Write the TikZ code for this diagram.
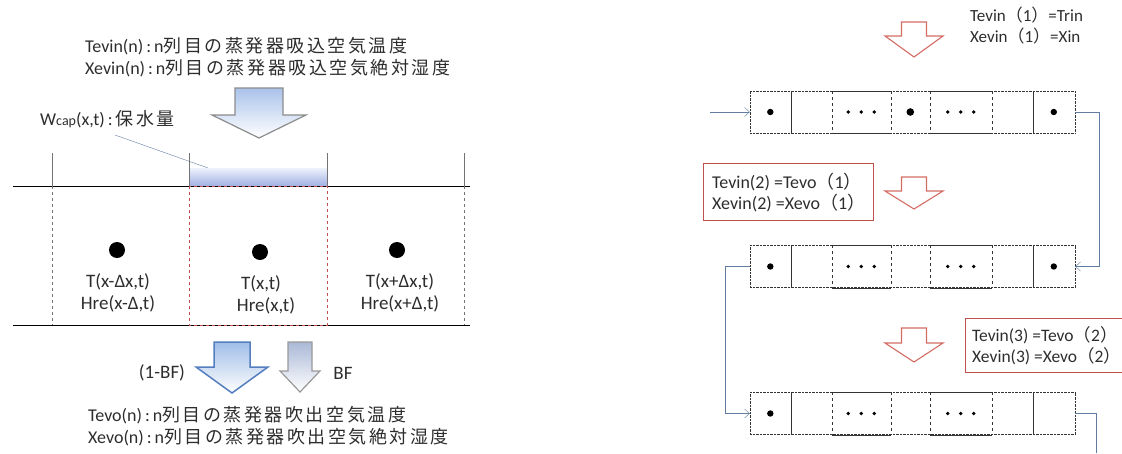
\documentclass[tikz,border=0pt]{standalone}
\usepackage{fontspec}
\setmainfont{Carlito}
\newfontfamily\jp[LetterSpace=14]{Noto Sans CJK JP}
\newfontfamily\jpparen{Noto Sans CJK JP}
\usetikzlibrary{arrows.meta}

\definecolor{cellred}{RGB}{192,80,77}
\definecolor{arrred}{RGB}{212,108,100}
\definecolor{connblue}{RGB}{96,124,160}
\definecolor{waterblue}{RGB}{160,176,226}
\definecolor{arrblue}{RGB}{84,126,190}
\definecolor{txtgray}{RGB}{45,45,45}

\tikzset{
  txt/.style={font=\fontsize{18}{22}\selectfont, text=txtgray, inner sep=0pt, align=left},
  lbl/.style={font=\fontsize{19}{22}\selectfont, text=txtgray, inner sep=0pt},
  smalltxt/.style={font=\fontsize{18}{21}\selectfont, text=txtgray, inner sep=0pt, align=left},
  rowbox/.style={draw=black!80, densely dotted, minimum width=325pt, minimum height=42pt, inner sep=0pt},
  redbox/.style={draw=cellred, line width=1.2pt, inner sep=0pt},
  redarrow/.style={draw=arrred, line width=1.1pt, fill=white},
  flow/.style={draw=connblue, -{Straight Barb[length=5pt,width=9pt]}},
}

\newcommand{\J}[1]{{\jp\fontsize{18}{22}\selectfont #1}}
\newcommand{\wparen}[1]{{\jpparen （}#1{\jpparen ）}}

% block arrow pointing down: style, cx, top, shaft half, head half, head line, tip
\newcommand{\downarrowshape}[7]{%
  \draw[#1] (#2-#4,#3) -- (#2+#4,#3) -- (#2+#4,#6) -- (#2+#5,#6)
    -- (#2,#7) -- (#2-#5,#6) -- (#2-#4,#6) -- cycle;}

% one row of cells
\newcommand{\cellrow}[2]{%
  \node[rowbox] (#1) at (912.5,#2) {};
  \foreach \xd/\sty in {41/solid,82/dashed,141/dashed,180/dashed,242/dashed,283/solid}
    \draw[black!80,\sty] ([xshift=\xd pt]#1.north west) -- ([xshift=\xd pt]#1.south west);
  \draw[black!80] ([xshift=82pt]#1.north west) -- ([xshift=141pt]#1.north west)
    ([xshift=180pt]#1.north west) -- ([xshift=242pt]#1.north west)
    ([xshift=82pt]#1.south west) -- ([xshift=141pt]#1.south west)
    ([xshift=180pt]#1.south west) -- ([xshift=242pt]#1.south west);
  \foreach \i/\cx in {1/20.5,2/61.5,3/111.5,4/160.5,5/211,6/262.5,7/304}
    \coordinate (#1-c\i) at ([xshift=\cx pt]#1.west);
}
\newcommand{\tripledot}[1]{%
  \foreach \dx in {-13,0,13} \fill ([xshift=\dx pt]#1) circle (1.9pt);}

\begin{document}
\begin{tikzpicture}[x=1pt,y=-1pt]
    \useasboundingbox (0,0) rectangle (1122,453);

    % ---------- left: one evaporator row ----------
    % inlet text
    \node[txt, anchor=west] (tevin) at (85,46) {Tevin(n)\,:\,n\J{列目の蒸発器吸込空気温度}};
    \node[txt, anchor=west] (xevin) at (85,68) {Xevin(n)\,:\,n\J{列目の蒸発器吸込空気絶対湿度}};

    % inlet arrow
    \downarrowshape{draw=black!45, line width=1.2pt, top color={rgb,255:red,170;green,195;blue,235}, middle color=white, bottom color=white}{259}{88}{24}{47}{115}{138}

    % water film
    \fill[top color={rgb,255:red,238;green,242;blue,252}, bottom color=waterblue] (189,168) rectangle (327,186);
    \node[txt, anchor=west] (wcap) at (40,119) {W{\fontsize{14}{14}\selectfont cap}(x,t)\,:\,\J{保水量}};
    \coordinate (film) at (208,168);
    \draw[connblue] (115,135) -- (film);

    % fin lines
    \draw[black, line width=1pt] (13,186) -- (470,186);
    \draw[black, line width=1pt] (13,325) -- (470,325);
    \foreach \xc in {52,189,327,464}
        \draw[black!55] (\xc,153) -- (\xc,186);
    \draw[black!55, dashed] (52,186) -- (52,325);
    \draw[black!55, dashed] (464,186) -- (464,325);
    \draw[cellred, dashed] (189,186) rectangle (327,325);

    % nodes
    \fill (117,250) circle (8pt);
    \fill (260,252) circle (8pt);
    \fill (397,250) circle (8pt);

    % labels
    \node[lbl] (tl) at (118,282) {T(x-Δx,t)};
    \node[lbl] (hl) at (118,304) {Hre(x-Δ,t)};
    \node[lbl] (tc) at (261,284) {T(x,t)};
    \node[lbl] (hc) at (266,306) {Hre(x,t)};
    \node[lbl] (tr) at (400,282) {T(x+Δx,t)};
    \node[lbl] (hr) at (400,304) {Hre(x+Δ,t)};

    % outlet arrows
    \downarrowshape{draw=arrblue, line width=1.5pt, top color={rgb,255:red,160;green,190;blue,232}, middle color=white, bottom color=white}{232}{342}{18}{36}{367}{393}
    \downarrowshape{draw=black!40, line width=1.2pt, top color={rgb,255:red,170;green,185;blue,215}, middle color=white, bottom color=white}{300}{342}{12}{20}{371}{392}
    \node[lbl] (bypass) at (162,373) {(1-BF)};
    \node[lbl] (bf) at (343,373) {BF};

    % outlet text
    \node[txt, anchor=west] (tevo) at (88,415) {Tevo(n)\,:\,n\J{列目の蒸発器吹出空気温度}};
    \node[txt, anchor=west] (xevo) at (88,437) {Xevo(n)\,:\,n\J{列目の蒸発器吹出空気絶対湿度}};

    % ---------- right: rows in series ----------
    \cellrow{row1}{112}
    \cellrow{row2}{266.5}
    \cellrow{row3}{413.5}

    \fill (row1-c1) circle (3.2pt);
    \tripledot{row1-c3}
    \fill (row1-c4) circle (3.8pt);
    \tripledot{row1-c5}
    \fill (row1-c7) circle (3.2pt);

    \fill (row2-c1) circle (3.2pt);
    \tripledot{row2-c3}
    \tripledot{row2-c5}
    \fill (row2-c7) circle (3.2pt);

    \fill (row3-c1) circle (3.2pt);
    \tripledot{row3-c3}
    \tripledot{row3-c5}

    % connectors
    \coordinate (inlet) at (710,112);
    \coordinate (outlet) at (1096,453);
    \draw[flow] (inlet) -- (row1.west);
    \draw[flow] (row1.east) -- ++(24,0) |- (row2.east);
    \draw[flow] (row2.west) -- ++(-25,0) |- (row3.west);
    \draw[connblue] (row3.east) -| (outlet);

    % air arrows
    \downarrowshape{redarrow}{914}{22}{12.5}{29}{36}{57}
    \downarrowshape{redarrow}{914}{177}{12.5}{29}{191}{209}
    \downarrowshape{redarrow}{914}{328}{12.5}{29}{343}{362}

    % boundary conditions
    \node[smalltxt, font=\fontsize{17}{21}\selectfont, anchor=west] (bc1) at (970,26) {Tevin\wparen{1}=Trin\\Xevin\wparen{1}=Xin};
    \node[redbox, minimum width=170pt, minimum height=57pt, anchor=north west] (lab2) at (703,163) {};
    \node[smalltxt, anchor=west] (bc2) at ([xshift=9pt]lab2.west) {Tevin(2) =Tevo\wparen{1}\\Xevin(2) =Xevo\wparen{1}};
    \node[redbox, minimum width=180pt, minimum height=54pt, anchor=north west] (lab3) at (965,318) {};
    \node[smalltxt, font=\fontsize{17.5}{21}\selectfont, anchor=west] (bc3) at ([xshift=7pt]lab3.west) {Tevin(3) =Tevo\wparen{2}\kern-.45em\\Xevin(3) =Xevo\wparen{2}\kern-.45em};

\end{tikzpicture}
\end{document}
